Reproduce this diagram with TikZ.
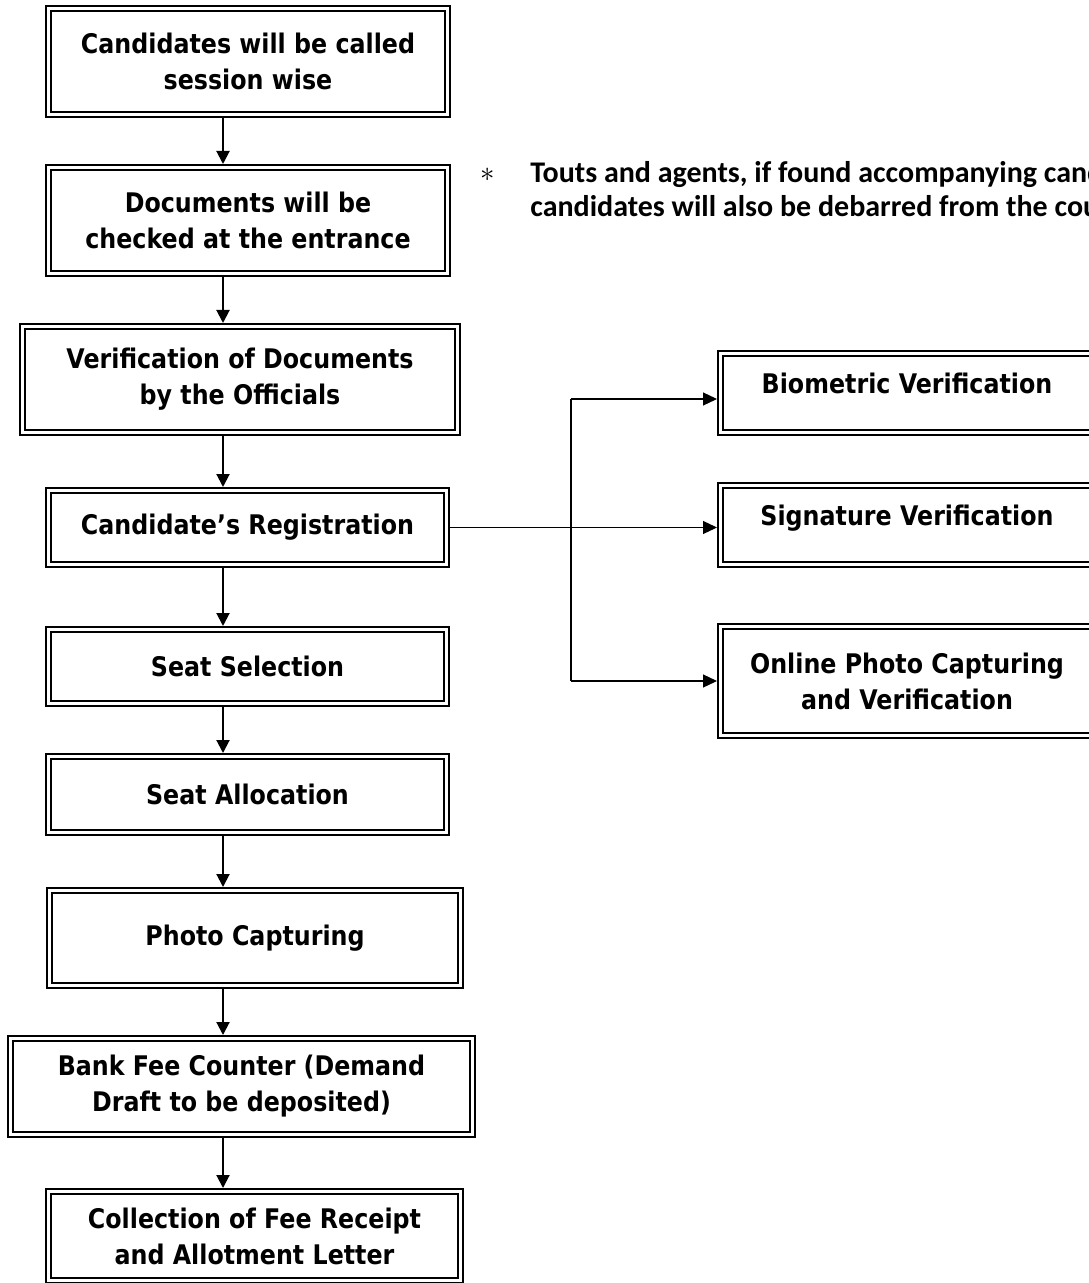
\documentclass[tikz,border=0pt]{standalone}
\usepackage{fontspec}
\usetikzlibrary{arrows.meta,positioning}
\newfontfamily\boxfont[FakeStretch=0.88]{DejaVu Sans}
\newfontfamily\notefont{Carlito}

\begin{document}
\begin{tikzpicture}[
  x=0.5pt, y=-0.5pt,
  dbox/.style={draw, double, line width=1pt, double distance=1.5pt, outer sep=1.75pt,
    inner sep=0pt, align=center, font=\boxfont\bfseries\fontsize{13.5}{18}\selectfont},
  narrow/.style={dbox, minimum width=199.5pt},
  side/.style={dbox, minimum width=186.5pt, minimum height=39.5pt},
  uptext/.style={text height=10pt, text depth=10pt},
  arr/.style={line width=1pt, -{Triangle[width=6.5pt,length=6.5pt]}},
  brn/.style={line width=0.6pt},
  brnarr/.style={brn, -{Triangle[width=6.5pt,length=7pt]}},
  note/.style={font=\notefont\bfseries\fontsize{15}{17}\selectfont, inner sep=0pt, align=left}
 ]
  \useasboundingbox (0,0) rectangle (1088,1283);

  % main column
  \node[narrow, minimum height=53pt] (call) at (248,61.5) {Candidates will be called\\session wise};
  \node[narrow, minimum height=53pt] (docs) at (248,220.5) {Documents will be\\checked at the entrance};
  \node[dbox, minimum width=217.5pt, minimum height=53pt] (verif) at (240,379.5) {Verification of Documents\\by the Officials};
  \node[narrow, minimum width=199pt, minimum height=37pt] (reg) at (247.5,527.5) {Candidate’s Registration};
  \node[narrow, minimum width=199pt, minimum height=37pt] (sel) at (247.5,666.5) {Seat Selection};
  \node[narrow, minimum width=199pt, minimum height=38pt] (alloc) at (247.5,794.5) {Seat Allocation};
  \node[dbox, minimum width=205.5pt, minimum height=47.5pt] (photo) at (255,938) {Photo Capturing};
  \node[dbox, minimum width=231pt, minimum height=48pt] (bank) at (241.5,1086.5) {Bank Fee Counter (Demand\\Draft to be deposited)};
  \node[dbox, minimum width=206pt, minimum height=44.5pt] (coll) at (254.5,1236) {Collection of Fee Receipt\\and Allotment Letter};

  % checks on the right
  \node[side, uptext] (bio) at (907,393) {Biometric Verification};
  \node[side, uptext] (sig) at (907,525) {Signature Verification};
  \node[side, minimum height=54.5pt] (onl) at (907,681) {Online Photo Capturing\\and Verification};

  % note
  \node[font=\fontsize{15}{17}\selectfont, inner sep=0pt] (star) at (488,175) {$\ast$};
  \node[note, anchor=base west] (touts) at (530,217) {Touts and agents, if found accompanying candidates\\candidates will also be debarred from the counselling};

  \coordinate (spine) at (223,0);
  \coordinate (fork) at (571,0);

  \foreach \a/\b in {call/docs,docs/verif,verif/reg,reg/sel,sel/alloc,alloc/photo,photo/bank,bank/coll}
    \draw[arr] (\a.south -| spine) -- (\b.north -| spine);

  \draw[brnarr] (reg.east) -- (reg.east -| sig.west);
  \draw[brn] ([yshift=-3pt]bio.west -| fork) -- (onl.west -| fork);
  \draw[brnarr] ([yshift=-3pt]bio.west -| fork) -- ([yshift=-3pt]bio.west);
  \draw[brnarr] (onl.west -| fork) -- (onl.west);
\end{tikzpicture}
\end{document}
